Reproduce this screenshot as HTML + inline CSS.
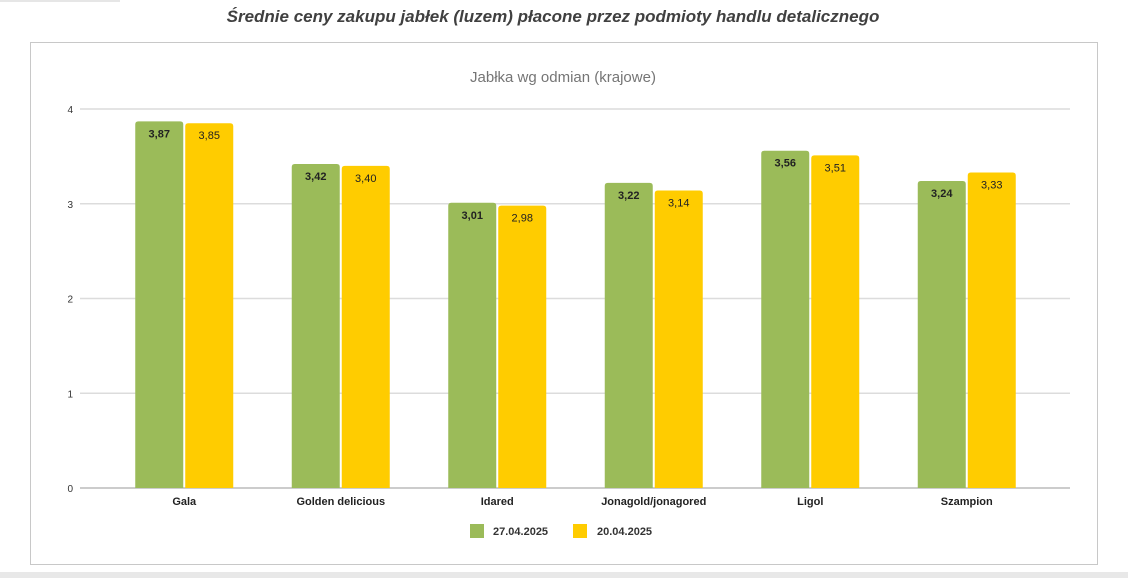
<!DOCTYPE html>
<html><head><meta charset="utf-8"><style>
body{margin:0;background:#fff;font-family:"Liberation Sans",sans-serif;}
</style></head><body>
<svg width="1128" height="578" xmlns="http://www.w3.org/2000/svg" font-family="Liberation Sans, sans-serif">
<rect x="0" y="0" width="1128" height="578" fill="#fff"/>
<line x1="0" y1="1" x2="120" y2="1" stroke="#ccc"/>
<text x="553" y="22" text-anchor="middle" font-size="17" font-weight="bold" font-style="italic" fill="#404040">Średnie ceny zakupu jabłek (luzem) płacone przez podmioty handlu detalicznego</text>
<rect x="30.5" y="42.5" width="1067" height="522" fill="#fff" stroke="#c8c8c8"/>
<rect x="0" y="572" width="1128" height="6" fill="#e8e8e8"/>
<text x="563" y="82" text-anchor="middle" font-size="15" fill="#757575">Jabłka wg odmian (krajowe)</text>
<g id="grid"></g><g id="bars"></g><g id="xlabels"></g>
<g>
<rect x="470" y="524" width="14" height="14" fill="#9bbb59"/>
<text x="493" y="535" font-size="11" font-weight="bold" fill="#333">27.04.2025</text>
<rect x="573" y="524" width="14" height="14" fill="#ffcc00"/>
<text x="597" y="535" font-size="11" font-weight="bold" fill="#333">20.04.2025</text>
</g>
</svg>
<script>
const categories=["Gala","Golden delicious","Idared","Jonagold/jonagored","Ligol","Szampion"];
const series1=[3.87,3.42,3.01,3.22,3.56,3.24];
const series2=[3.85,3.40,2.98,3.14,3.51,3.33];
const yTicks=[0,1,2,3,4];
const NS="http://www.w3.org/2000/svg";
const x0=80,x1=1070,yZero=488,yTop=109,yMax=4;
const bandStart=106,bandEnd=1045;
const y=v=>yZero-(v/yMax)*(yZero-yTop);
const band=(bandEnd-bandStart)/categories.length;
const cx=i=>bandStart+band*(i+0.5);
function mk(tag,attrs,parent){const e=document.createElementNS(NS,tag);for(const k in attrs)e.setAttribute(k,attrs[k]);parent.appendChild(e);return e;}
const grid=document.getElementById('grid'),bars=document.getElementById('bars'),xl=document.getElementById('xlabels');
yTicks.forEach(t=>{
 const l=mk('line',{x1:x0,x2:x1,y1:y(t),y2:y(t),stroke:t===0?'#bbb':'#dcdcdc','stroke-width':1.5},grid);
 
 
 const tx=mk('text',{x:x0-7,y:y(t)+4,'text-anchor':'end','font-size':10,fill:'#333'},grid);
 tx.textContent=t;
 
 
});
function rbar(xl_,w,yt){const r=3;return `M${xl_},${yZero}V${yt+r}Q${xl_},${yt} ${xl_+r},${yt}H${xl_+w-r}Q${xl_+w},${yt} ${xl_+w},${yt+r}V${yZero}Z`;}
const bw=48;
categories.forEach((c,i)=>{
 [[series1,'#9bbb59',-bw-1,'bold'],[series2,'#ffcc00',1,'normal']].forEach(([s,col,off,fw],k)=>{
  const bx=cx(i)+off, by=y(s[i]);
  const p=mk('path',{d:rbar(bx,bw,by),fill:col},bars);
  
  
  const t=mk('text',{x:bx+bw/2,y:by+16,'text-anchor':'middle','font-size':11,'font-weight':fw,fill:'#222'},bars);
  t.textContent=s[i].toFixed(2).replace('.',',');
  
  
 });
 const t=mk('text',{x:cx(i),y:505,'text-anchor':'middle','font-size':11,'font-weight':'bold',fill:'#222'},xl);
 t.textContent=c;
 
 
});
</script>
</body></html>
